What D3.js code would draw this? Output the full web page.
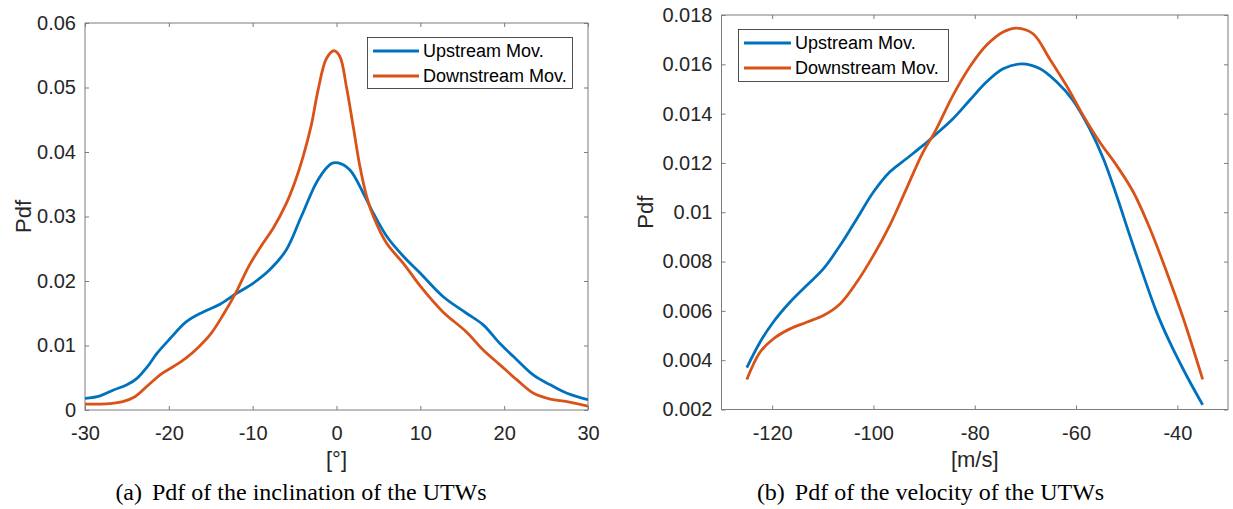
<!DOCTYPE html>
<html>
<head>
<meta charset="utf-8">
<script src="https://cdn.jsdelivr.net/npm/d3@7"></script>
<style>
  html, body { margin: 0; padding: 0; background: #fff; }
  svg { display: block; }
</style>
</head>
<body>
<svg id="chart" width="1233" height="509"></svg>
<script>
// ---------- data ----------
const seriesNames = ["Upstream Mov.", "Downstream Mov."];
const seriesColors = ["#0072BD", "#D95319"];

// (a) inclination [°]
const inclUpX = [-30,-28.2,-26.6,-25,-23.8,-22.5,-21.4,-19.9,-17.9,-15.9,-13.9,-11.9,-10,-8,-6,-4.2,-2.2,-0.6,0.2,1.6,3.2,4.4,6,8,10,12.7,15.5,17.5,19.5,21.5,23.5,25.5,27.5,30];
const inclUpY = [0.0018,0.0022,0.0031,0.0039,0.0049,0.0068,0.0088,0.011,0.0137,0.0152,0.0164,0.0181,0.0196,0.0217,0.0248,0.030,0.0357,0.0382,0.0383,0.0372,0.0336,0.0305,0.0269,0.0238,0.0212,0.0176,0.015,0.0132,0.0103,0.0078,0.0054,0.0039,0.0026,0.0016];
const inclDownX = [-30,-27,-25.5,-24,-22.5,-21,-19.5,-18,-16.5,-15,-13.5,-12,-10.5,-9,-7.5,-6,-5,-4,-3,-2.2,-1.2,-0.3,0.4,1.2,2,2.8,3.6,4.4,6,8,10,12.7,15.5,17.5,19.5,21.5,23.5,25.5,27.5,30];
const inclDownY = [0.0009,0.001,0.0013,0.0021,0.0038,0.0055,0.0067,0.008,0.0097,0.0118,0.0148,0.0182,0.0222,0.0254,0.0283,0.032,0.0352,0.0392,0.0442,0.0496,0.0545,0.0557,0.0548,0.050,0.0439,0.0377,0.0331,0.030,0.0258,0.0227,0.0192,0.0152,0.0121,0.0093,0.007,0.0047,0.0026,0.0017,0.0013,0.0006];
const inclXTicks = [-30,-20,-10,0,10,20,30];
const inclXTickLabels = ["-30","-20","-10","0","10","20","30"];
const inclYTicks = [0,0.01,0.02,0.03,0.04,0.05,0.06];
const inclYTickLabels = ["0","0.01","0.02","0.03","0.04","0.05","0.06"];

// (b) velocity [m/s]
const velUpX = [-125,-122.4,-119.8,-116.5,-113.2,-109.9,-106.6,-103.3,-100,-96.8,-93.5,-90.2,-87.9,-84.3,-81,-77.7,-74.4,-70.7,-67.1,-63.8,-60.6,-57.3,-54.6,-52,-49.4,-46.7,-44.1,-41.5,-38.2,-35];
const velUpY = [0.0037,0.00473,0.00554,0.00635,0.00703,0.0077,0.00865,0.00973,0.01082,0.01163,0.01217,0.01271,0.01312,0.01379,0.01454,0.01528,0.01582,0.01602,0.01582,0.01528,0.01454,0.01338,0.01217,0.01068,0.00906,0.00744,0.00595,0.00473,0.00338,0.00219];
const velDownX = [-125,-122.4,-119.8,-116.5,-113.2,-109.9,-106.6,-103.3,-100,-96.8,-93.5,-90.2,-87.9,-84.3,-81,-77.7,-74.4,-71.7,-68.5,-65.2,-61.9,-58.6,-55.3,-52,-48.7,-45.4,-42.1,-38.8,-35];
const velDownY = [0.00322,0.00432,0.00486,0.00527,0.00554,0.00581,0.00628,0.00716,0.00825,0.00946,0.01095,0.01244,0.01325,0.01474,0.01589,0.01677,0.01731,0.01747,0.01724,0.01622,0.01514,0.01393,0.01284,0.0119,0.01082,0.00933,0.00757,0.00568,0.00322];
const velXTicks = [-120,-100,-80,-60,-40];
const velXTickLabels = ["-120","-100","-80","-60","-40"];
const velYTicks = [0.002,0.004,0.006,0.008,0.01,0.012,0.014,0.016,0.018];
const velYTickLabels = ["0.002","0.004","0.006","0.008","0.01","0.012","0.014","0.016","0.018"];

const captions = ["(a)", "(b)"];
const captionTexts = ["Pdf of the inclination of the UTWs", "Pdf of the velocity of the UTWs"];
const xLabels = ["[°]", "[m/s]"];
const yLabel = "Pdf";

// ---------- drawing ----------
const svg = d3.select("#chart");
const sansFont = "'Liberation Sans', Arial, Helvetica, sans-serif";
const serifFont = "'Liberation Serif', 'Times New Roman', serif";

function panel(cfg) {
  const x = d3.scaleLinear().domain(cfg.xDomain).range([cfg.left, cfg.right]);
  const y = d3.scaleLinear().domain(cfg.yDomain).range([cfg.bottom, cfg.top]);
  const g = svg.append("g");

  // box
  g.append("rect")
    .attr("x", cfg.left).attr("y", cfg.top)
    .attr("width", cfg.right - cfg.left).attr("height", cfg.bottom - cfg.top)
    .attr("fill", "none").attr("stroke", "#7d7d7d").attr("stroke-width", 1);

  const tk = 4;
  const ax = g.append("g").attr("transform", `translate(0,${cfg.bottom})`)
    .call(d3.axisBottom(x).tickValues(cfg.xTicks).tickSize(-tk).tickPadding(16)
      .tickFormat((d, i) => cfg.xTickLabels[i]));
  const ay = g.append("g").attr("transform", `translate(${cfg.left},0)`)
    .call(d3.axisLeft(y).tickValues(cfg.yTicks).tickSize(-tk).tickPadding(9)
      .tickFormat((d, i) => cfg.yTickLabels[i]));
  const at = g.append("g").attr("transform", `translate(0,${cfg.top})`)
    .call(d3.axisTop(x).tickValues(cfg.xTicks).tickSize(-tk).tickFormat(""));
  const ar = g.append("g").attr("transform", `translate(${cfg.right},0)`)
    .call(d3.axisRight(y).tickValues(cfg.yTicks).tickSize(-tk).tickFormat(""));

  [ax, ay, at, ar].forEach(a => {
    a.select(".domain").remove();
    a.selectAll(".tick line").attr("stroke", "#7d7d7d");
    a.selectAll(".tick text").attr("fill", "#262626")
      .style("font-family", sansFont).style("font-size", "20px");
  });

  // axis labels
  g.append("text")
    .attr("x", (cfg.left + cfg.right) / 2).attr("y", 467)
    .attr("text-anchor", "middle").attr("fill", "#262626")
    .style("font-family", sansFont).style("font-size", "22px")
    .text(cfg.xLabel);
  g.append("text")
    .attr("transform", `translate(${cfg.yLabelX},${(cfg.top + cfg.bottom) / 2}) rotate(-90)`)
    .attr("text-anchor", "middle").attr("fill", "#262626")
    .style("font-family", sansFont).style("font-size", "22px")
    .text(yLabel);

  // lines
  const line = d3.line().x(d => x(d[0])).y(d => y(d[1])).curve(d3.curveCatmullRom.alpha(0.5));
  const clipId = "clip" + cfg.id;
  g.append("clipPath").attr("id", clipId).append("rect")
    .attr("x", cfg.left).attr("y", cfg.top)
    .attr("width", cfg.right - cfg.left).attr("height", cfg.bottom - cfg.top);
  cfg.series.forEach((s, i) => {
    const pts = s.xs.map((v, k) => [v, s.ys[k]]);
    g.append("path").datum(pts)
      .attr("clip-path", `url(#${clipId})`)
      .attr("fill", "none").attr("stroke", seriesColors[i])
      .attr("stroke-width", 2.8).attr("stroke-linejoin", "round")
      .attr("d", line);
  });

  // legend
  const L = cfg.legend;
  const lg = g.append("g");
  lg.append("rect").attr("x", L.x0).attr("y", L.y0)
    .attr("width", L.x1 - L.x0).attr("height", L.y1 - L.y0)
    .attr("fill", "#fff").attr("stroke", "#262626").attr("stroke-width", 0.8);
  seriesNames.forEach((name, i) => {
    const yy = L.rows[i];
    lg.append("line").attr("x1", L.lx0).attr("x2", L.lx1).attr("y1", yy).attr("y2", yy)
      .attr("stroke", seriesColors[i]).attr("stroke-width", 2.8);
    lg.append("text").attr("x", L.tx).attr("y", yy).attr("dy", "0.35em")
      .attr("fill", "#000").style("font-family", sansFont).style("font-size", "18px")
      .text(name);
  });

  // caption
  const cap = svg.append("text")
    .attr("x", cfg.capX).attr("y", 500).attr("text-anchor", "middle")
    .attr("fill", "#000").style("font-family", serifFont).style("font-size", "24px");
  cap.append("tspan").text(cfg.capLabel);
  cap.append("tspan").attr("dx", 10).text(cfg.capText);
}

panel({
  id: "a",
  left: 85, right: 588, top: 23, bottom: 410,
  xDomain: [-30, 30], yDomain: [0, 0.06],
  xTicks: inclXTicks, xTickLabels: inclXTickLabels,
  yTicks: inclYTicks, yTickLabels: inclYTickLabels,
  xLabel: xLabels[0], yLabelX: 31,
  series: [{xs: inclUpX, ys: inclUpY}, {xs: inclDownX, ys: inclDownY}],
  legend: {x0: 367.5, x1: 572.5, y0: 37.5, y1: 88.5, rows: [51, 76], lx0: 373, lx1: 419, tx: 423},
  capX: 301, capLabel: captions[0], capText: captionTexts[0]
});

panel({
  id: "b",
  left: 721.5, right: 1228, top: 15, bottom: 409.5,
  xDomain: [-130, -30], yDomain: [0.002, 0.018],
  xTicks: velXTicks, xTickLabels: velXTickLabels,
  yTicks: velYTicks, yTickLabels: velYTickLabels,
  xLabel: xLabels[1], yLabelX: 653,
  series: [{xs: velUpX, ys: velUpY}, {xs: velDownX, ys: velDownY}],
  legend: {x0: 738.5, x1: 948.5, y0: 29.5, y1: 81.5, rows: [43, 68], lx0: 744, lx1: 791, tx: 795},
  capX: 930.5, capLabel: captions[1], capText: captionTexts[1]
});
</script>
</body>
</html>
